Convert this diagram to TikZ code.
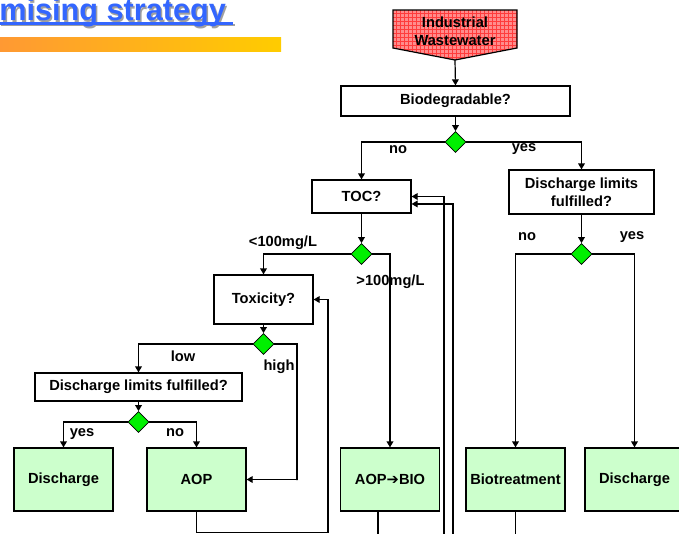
\documentclass[tikz,border=0pt]{standalone}
\usepackage{fontspec}
\setmainfont{Liberation Sans}
\newfontfamily\arrowfont{DejaVu Sans}
\usetikzlibrary{shapes.geometric,arrows.meta,patterns}
\definecolor{titleblue}{RGB}{51,102,255}
\definecolor{titleshade}{RGB}{160,160,160}
\definecolor{barorange}{RGB}{255,153,51}
\definecolor{baryellow}{RGB}{255,204,0}
\definecolor{boxgreen}{RGB}{204,255,204}
\definecolor{decgreen}{RGB}{0,240,0}
\definecolor{wwpink}{RGB}{255,140,140}
\definecolor{wwred}{RGB}{255,60,60}

\begin{document}
\begin{tikzpicture}[x=0.75pt,y=0.75pt,yscale=-1,
  every node/.style={font=\bfseries\fontsize{11}{13.5}\selectfont},
  qbox/.style={draw, line width=0.9pt, fill=white, align=center, inner sep=0pt},
  gbox/.style={qbox, fill=boxgreen, minimum width=74.25pt, minimum height=47.25pt},
  dec/.style={diamond, draw, line width=0.6pt, fill=decgreen, inner sep=0pt, minimum size=15.75pt},
  lbl/.style={inner sep=0.75pt},
  conn/.style={line width=0.9pt, -{Triangle[length=4.5pt,width=5pt]}},
  wire/.style={line width=0.9pt}]

\useasboundingbox (0,0) rectangle (679,533);
\clip (0,0) rectangle (679,533);

\node[anchor=base west, inner sep=0pt, text=titleshade, font=\bfseries\fontsize{23}{23}\selectfont] (shadow) at (0.5,22.2) {mising strategy};
\draw[titleshade, line width=1.6pt] (1.5,25) -- (234.5,25);
\node[anchor=base west, inner sep=0pt, text=titleblue, font=\bfseries\fontsize{23}{23}\selectfont] (title) at (-1,20.7) {mising strategy};
\draw[titleblue, line width=1.6pt] (0,23.5) -- (233,23.5);
\shade[left color=barorange, right color=baryellow] (0,37) rectangle (281,51);

\draw[line width=0.9pt, preaction={fill=wwpink}, pattern=grid, pattern color=wwred] (393,10) -- (517,10) -- (517,48) -- (455,60) -- (393,48) -- cycle;
\node[align=center, inner sep=0pt, text=black] (ww) at (455,31) {Industrial\\Wastewater};
\coordinate (wwtip) at (455,60);

\node[qbox, minimum width=171.75pt, minimum height=22.5pt] (bio) at (455.5,101) {Biodegradable?};
\node[dec] (d1) at (455.5,142) {};
\node[qbox, minimum width=74.25pt, minimum height=24.75pt] (toc) at (361.5,196.5) {TOC?};
\node[qbox, minimum width=108.75pt, minimum height=33pt] (dl1) at (581.5,192) {Discharge limits\\fulfilled?};
\node[dec] (d2) at (361.5,254) {};
\node[dec] (d3) at (581.5,254) {};
\node[qbox, minimum width=74.25pt, minimum height=36.75pt] (tox) at (263.5,299.5) {Toxicity?};
\node[dec] (d4) at (263.5,344) {};
\node[qbox, minimum width=155.25pt, minimum height=21pt] (dl2) at (138.5,387) {Discharge limits fulfilled?};
\node[dec] (d5) at (138.5,422) {};

\node[gbox] (dis1) at (63.5,479.5) {Discharge};
\node[gbox] (aop) at (196.5,479.5) {AOP};
\node[gbox] (aopbio) at (390,479.5) {AOP{\arrowfont\bfseries ➔}BIO};
\node[gbox] (biot) at (515.5,479.5) {Biotreatment};
\node[gbox] (dis2) at (634.5,479.5) {Discharge};

\node[lbl] (lno1) at (398,150) {no};
\node[lbl] (lyes1) at (524,149) {yes};
\node[lbl] (llow1) at (283,243) {<100mg/L};
\node[lbl] (lhigh1) at (390.5,282) {>100mg/L};
\node[lbl] (lno2) at (527,237) {no};
\node[lbl] (lyes2) at (632,237) {yes};
\node[lbl] (llow2) at (183,356) {low};
\node[lbl] (lhigh2) at (279,367) {high};
\node[lbl] (lyes3) at (82,434) {yes};
\node[lbl] (lno3) at (175,433) {no};

\coordinate (hi) at (297,480);
\coordinate (lp) at (328,532.8);
\coordinate (ab) at (378,545);
\coordinate (tin) at (444,545);
\coordinate (tout) at (453,545);
\coordinate (bot) at (0,545);

\draw[conn] (wwtip) -- (bio.north);
\draw[conn] (bio.south) -- (d1.north);
\draw[conn] (d1.west) -| (toc.north);
\draw[conn] (d1.east) -| (dl1.north);
\draw[conn] (toc.south) -- (d2.north);
\draw[conn] (dl1.south) -- (d3.north);
\draw[conn] (d2.west) -| (tox.north);
\draw[conn] (d2.east) -| (aopbio.north);
\draw[conn] (d3.west) -| (biot.north);
\draw[conn] (d3.east) -| (dis2.north);
\draw[conn] (tox.south) -- (d4.north);
\draw[conn] (d4.west) -| (dl2.north);
\draw[conn] (d4.east) -| (hi) |- (aop.east);
\draw[conn] (dl2.south) -- (d5.north);
\draw[conn] (d5.west) -| (dis1.north);
\draw[conn] (d5.east) -| (aop.north);
\draw[conn] (aop.south) |- (lp) |- (tox.east);
\draw[wire] (aopbio.south -| ab) -- (ab);
\draw[conn] (tin) |- (toc.east);
\draw[conn] (tout) |- ([yshift=5.6pt]toc.east);
\draw[wire] (biot.south) -- (biot.south |- bot);
\end{tikzpicture}
\end{document}
